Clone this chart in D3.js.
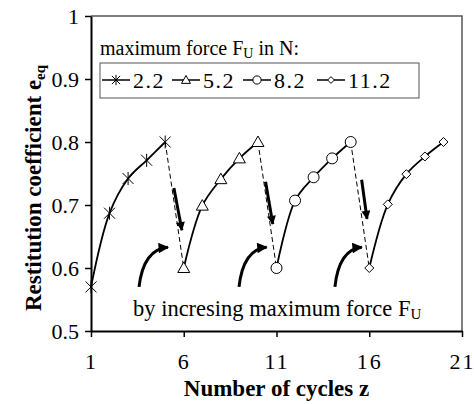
<!DOCTYPE html>
<html><head><meta charset="utf-8">
<script src="https://cdn.jsdelivr.net/npm/d3@7"></script>
<style>
body{margin:0;background:#fff;}
svg{display:block;}
text{font-family:"Liberation Serif","Times New Roman",serif;fill:#000;}
</style></head>
<body>
<svg id="c" width="474" height="404"></svg>
<script>
// ---- data ----
const cycles = [1,2,3,4,5,6,7,8,9,10,11,12,13,14,15,16,17,18,19,20];
const forceLabels = ["2.2","5.2","8.2","11.2"];
const series22  = [0.570,0.687,0.742,0.771,0.800];
const series52  = [0.600,0.699,0.741,0.774,0.800];
const series82  = [0.600,0.707,0.744,0.774,0.800];
const series112 = [0.600,0.701,0.749,0.777,0.800];
const markerTypes = ["star","triangle","circle","diamond"];
const xTicks = [1,6,11,16,21];
const yTicks = [0.5,0.6,0.7,0.8,0.9,1.0];
// annotation arrows in data units [z, e]
const downArrows = [[[5.47,0.727],[5.9,0.660]],[[10.41,0.737],[10.8,0.670]],[[15.59,0.740],[15.88,0.678]]];
const curvedArrows = [[[3.59,0.570],[5.15,0.633]],[[8.98,0.570],[10.47,0.633]],[[14.15,0.570],[15.6,0.633]]];

const allSeries = [series22,series52,series82,series112];

const svg = d3.select("#c");
const L=91,R=462,T=16,B=331;
const x = d3.scaleLinear().domain([1,21]).range([L,R]);
const y = d3.scaleLinear().domain([0.5,1.0]).range([B,T]);

// frame (top/right)
svg.append("path").attr("d",`M${L},${T}H${R}V${B}`).attr("fill","none").attr("stroke","#555").attr("stroke-width",1.5);

const defs = svg.append("defs");
defs.append("marker").attr("id","ah").attr("viewBox","0 0 10 10").attr("refX",9).attr("refY",5)
  .attr("markerWidth",4.5).attr("markerHeight",3).attr("markerUnits","strokeWidth").attr("orient","auto")
  .append("path").attr("d","M0,0L10,5L0,10z").attr("fill","#000");
defs.append("marker").attr("id","ah2").attr("viewBox","0 0 10 10").attr("refX",9).attr("refY",5)
  .attr("markerWidth",4.5).attr("markerHeight",3.5).attr("markerUnits","strokeWidth").attr("orient","auto")
  .append("path").attr("d","M0,0L10,5L0,10z").attr("fill","#000");

// axes
const xa = svg.append("g").attr("transform",`translate(0,${B})`)
  .call(d3.axisBottom(x).tickValues(xTicks).tickSize(6).tickSizeOuter(0).tickPadding(16).tickFormat(d3.format("d")));
const ya = svg.append("g").attr("transform",`translate(${L},0)`)
  .call(d3.axisLeft(y).tickValues(yTicks).tickSize(6).tickSizeOuter(0).tickPadding(6).tickFormat(d=>d===1?"1":d.toFixed(1)));
[xa,ya].forEach(a=>{
  a.select(".domain").attr("stroke","#000").attr("stroke-width",2);
  a.selectAll(".tick line").attr("stroke","#000").attr("stroke-width",1.5);
  a.selectAll(".tick text").attr("font-size",22).attr("fill","#000");
});
xa.selectAll(".tick text").attr("letter-spacing",2);

// dashed connectors between series
for(let i=0;i<allSeries.length-1;i++){
  const a = allSeries[i], b = allSeries[i+1];
  svg.append("line")
    .attr("x1",x(cycles[i*5+4])).attr("y1",y(a[a.length-1]))
    .attr("x2",x(cycles[(i+1)*5])).attr("y2",y(b[0]))
    .attr("stroke","#000").attr("stroke-width",1).attr("stroke-dasharray","5,3");
}

// series lines
const line = d3.line().curve(d3.curveCatmullRom.alpha(0.5)).x(d=>x(d[0])).y(d=>y(d[1]));
allSeries.forEach((s,i)=>{
  const pts = s.map((v,j)=>[cycles[i*5+j],v]);
  svg.append("path").attr("d",line(pts)).attr("fill","none").attr("stroke","#000").attr("stroke-width",1.8);
});

function drawMarker(g,type,cx,cy,k){
  k = k||1;
  if(type==="star"){
    const r=5.5*k;
    g.append("path").attr("d",`M${cx-r},${cy-r}L${cx+r},${cy+r}M${cx-r},${cy+r}L${cx+r},${cy-r}M${cx},${cy-r-1}V${cy+r+1}`)
      .attr("stroke","#000").attr("stroke-width",1);
  } else if(type==="triangle"){
    const r=6*k;
    g.append("path").attr("d",`M${cx},${cy-r}L${cx+r},${cy+r*0.75}L${cx-r},${cy+r*0.75}Z`)
      .attr("fill","#fff").attr("stroke","#000").attr("stroke-width",1);
  } else if(type==="circle"){
    g.append("circle").attr("cx",cx).attr("cy",cy).attr("r",5.5*k)
      .attr("fill","#fff").attr("stroke","#000").attr("stroke-width",1);
  } else {
    const r=4.5*k;
    g.append("path").attr("d",`M${cx},${cy-r}L${cx+r},${cy}L${cx},${cy+r}L${cx-r},${cy}Z`)
      .attr("fill","#fff").attr("stroke","#000").attr("stroke-width",1);
  }
}
allSeries.forEach((s,i)=>{
  const g = svg.append("g");
  s.forEach((v,j)=>drawMarker(g,markerTypes[i],x(cycles[i*5+j]),y(v)));
});

// down arrows
downArrows.forEach(a=>{
  svg.append("line").attr("x1",x(a[0][0])).attr("y1",y(a[0][1])).attr("x2",x(a[1][0])).attr("y2",y(a[1][1]))
    .attr("stroke","#000").attr("stroke-width",3).attr("marker-end","url(#ah)");
});
// curved arrows
curvedArrows.forEach(a=>{
  const x0=x(a[0][0]),y0=y(a[0][1]),x1=x(a[1][0]),y1=y(a[1][1]);
  const cx=x0+(x1-x0)*0.15, cy=y1+(y0-y1)*0.05;
  svg.append("path").attr("d",`M${x0},${y0}Q${cx},${cy} ${x1},${y1}`)
    .attr("fill","none").attr("stroke","#000").attr("stroke-width",3).attr("marker-end","url(#ah2)");
});

// legend
svg.append("text").attr("x",100).attr("y",55).attr("font-size",20)
  .html('maximum force F<tspan font-size="14" dy="3">U</tspan><tspan dy="-3"> in N:</tspan>');
svg.append("rect").attr("x",100).attr("y",63).attr("width",319).attr("height",35)
  .attr("fill","#fff").attr("stroke","#555").attr("stroke-width",1);
const legX = [102,172,243,317];
forceLabels.forEach((lab,i)=>{
  const lx=legX[i], ly=80;
  svg.append("line").attr("x1",lx).attr("x2",lx+28).attr("y1",ly).attr("y2",ly).attr("stroke","#000").attr("stroke-width",1.5);
  drawMarker(svg.append("g"),markerTypes[i],lx+14,ly,0.75);
  svg.append("text").attr("x",lx+31).attr("y",ly+8).attr("font-size",22).attr("letter-spacing",1.5).text(lab);
});

// annotation text
svg.append("text").attr("x",133).attr("y",316).attr("font-size",22.5)
  .html('by incresing maximum force F<tspan font-size="15" dy="3">U</tspan>');

// axis titles
svg.append("text").attr("x",(L+R)/2).attr("y",396).attr("text-anchor","middle").attr("font-size",23).attr("font-weight","bold")
  .text("Number of cycles z");
svg.append("text").attr("transform","translate(41,188) rotate(-90)").attr("text-anchor","middle").attr("font-size",23).attr("font-weight","bold")
  .html('Restitution coefficient e<tspan font-size="15" dy="4">eq</tspan>');
</script>
</body></html>
